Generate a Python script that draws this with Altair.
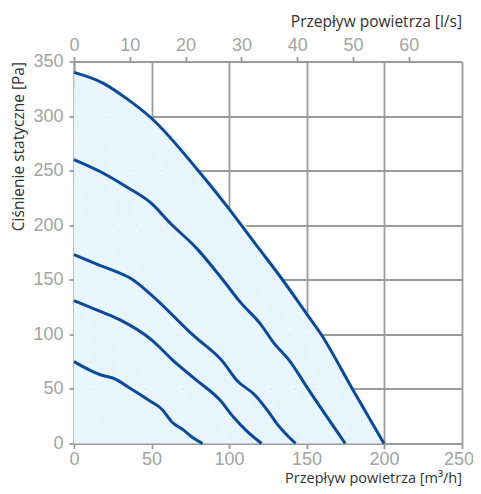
import altair as alt
import pandas as pd

# Curves: airflow [m3/h] vs static pressure [Pa]
c1_x = [0, 19, 34, 50, 79, 100, 118, 133, 150, 159, 180, 200]
c1_y = [340, 330, 316, 298, 252, 215, 181, 153, 119, 101, 49, 0]
c2_x = [0, 21, 34, 50, 62, 79, 96, 107, 120, 129, 139, 151, 175]
c2_y = [260, 246, 235, 220, 202, 179, 150, 130, 110, 92, 76, 50, 0]
c3_x = [0, 17, 28, 37, 50, 77, 96, 105, 117, 126, 131, 143]
c3_y = [173, 163, 157, 151, 136, 99, 75, 58, 44, 28, 18, 0]
c4_x = [0, 17, 30, 50, 64, 79, 94, 103, 111, 121]
c4_y = [131, 121, 113, 95, 76, 58, 40, 24, 12, 0]
c5_x = [0, 17, 25, 37, 49, 57, 63, 71, 77, 83]
c5_y = [75, 63, 60, 50, 39, 31, 20, 12, 5, 0]

x_ticks = [0, 50, 100, 150, 200, 250]
y_ticks = [0, 50, 100, 150, 200, 250, 300, 350]
ls_ticks = [0, 10, 20, 30, 40, 50, 60]

rows = []
for cid, (xs, ys) in enumerate([(c1_x, c1_y), (c2_x, c2_y), (c3_x, c3_y), (c4_x, c4_y), (c5_x, c5_y)]):
    for i, (a, b) in enumerate(zip(xs, ys)):
        rows.append({"curve": cid, "order": i, "q": a, "p": b})
df = pd.DataFrame(rows)
df_top = df[df.curve == 0]

xscale = alt.Scale(domain=[0, 250], nice=False, zero=True)
yscale = alt.Scale(domain=[0, 350], nice=False)

label_font = "Liberation Sans"
title_font = "Open Sans"
grey = "#9b9b9b"

y_axis = alt.Axis(values=y_ticks, grid=True, title="Ciśnienie statyczne [Pa]",
                  titleAnchor="end", titlePadding=6.5, labelPadding=6, tickSize=5,
                  titleFontSize=15.5, labelFlush=False)

area = alt.Chart(df_top).mark_area(color="#e8f5fc", interpolate="monotone").encode(
    x=alt.X("q:Q", scale=xscale,
            axis=alt.Axis(orient="top", values=[v * 3.6 for v in ls_ticks],
                          labelExpr="round(datum.value/3.6)", grid=False,
                          title="Przepływ powietrza [l/s]", titleAnchor="end",
                          titlePadding=7, labelPadding=2, tickSize=5, labelFlush=False)),
    y=alt.Y("p:Q", scale=yscale, axis=y_axis),
    order="order:Q",
)

lines = alt.Chart(df).mark_line(color="#0b4a99", strokeWidth=3, interpolate="monotone").encode(
    x=alt.X("q:Q", scale=xscale,
            axis=alt.Axis(orient="bottom", values=x_ticks, grid=True,
                          title="Przepływ powietrza [m³/h]", titleAnchor="end",
                          titleY=38.5, titleBaseline="alphabetic", titleFontSize=14.5,
                          labelPadding=2, tickSize=5, labelFlush=False,
                          labelOffset=alt.ExprRef("datum.value == 250 ? -3 : 0"))),
    y=alt.Y("p:Q", scale=yscale, axis=y_axis),
    detail="curve:N",
    order="order:Q",
)

chart = alt.layer(area, lines).resolve_scale(x="shared", y="shared").resolve_axis(
    x="independent"
).properties(
    width=387.5, height=382,
    autosize=alt.AutoSizeParams(type="none"),
    padding={"left": 66, "top": 53.5, "right": 11.5, "bottom": 42},
).configure_view(stroke=None).configure_axis(
    labelFont=label_font, labelFontSize=18, labelColor="#a3a3a3",
    titleFont=title_font, titleFontSize=15.5, titleColor="#333333", titleFontWeight="normal",
    domainColor=grey, domainWidth=1.8, tickColor=grey, tickWidth=1.8,
    gridColor=grey, gridWidth=1.8, gridOpacity=1,
)

chart.save("out.html", embed_options={"renderer": "svg", "actions": False})
